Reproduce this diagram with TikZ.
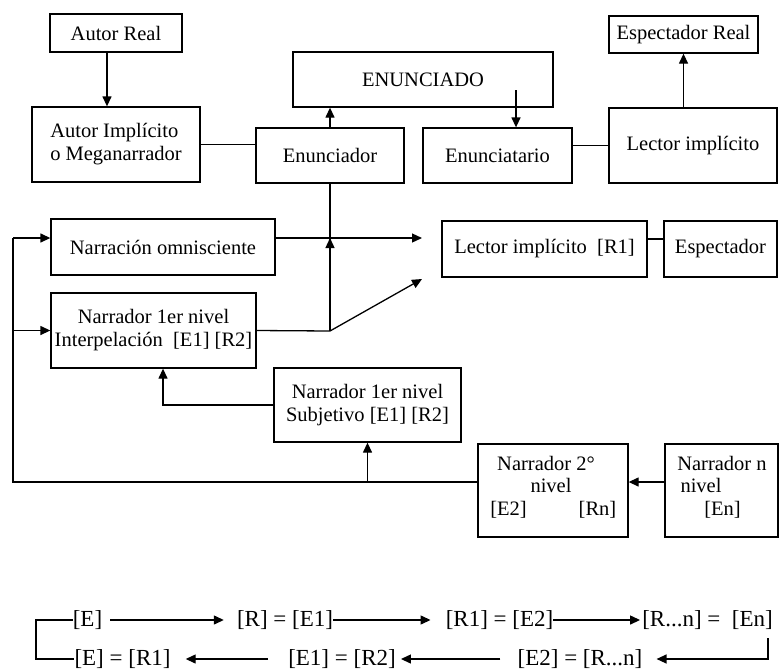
\documentclass[tikz,border=0pt]{standalone}
\usepackage{fontspec}
\setmainfont{Liberation Serif}
\usetikzlibrary{arrows.meta}
\begin{document}
\begin{tikzpicture}[x=1pt,y=-1pt,
  bx/.style={draw,line width=1.3pt,inner sep=0pt,align=center,font=\fontsize{20.5}{23}\selectfont},
  txt/.style={inner sep=0pt,font=\fontsize{20.5}{23}\selectfont},
  btxt/.style={inner sep=0pt,font=\fontsize{23}{25}\selectfont},
  ln/.style={line width=1.3pt},
  arr/.style={line width=1.3pt,-{Triangle[length=10pt,width=9pt]}}]
\useasboundingbox (0,0) rectangle (781,670);
% boxes
\node[bx,minimum width=132pt,minimum height=38pt] (ar) at (116,33) {Autor Real};
\node[bx,minimum width=168pt,minimum height=75pt,align=left] (ai) at (116,144.5) {Autor Implícito\\o Meganarrador};
\node[bx,minimum width=260pt,minimum height=55pt] (eno) at (423,79.5) {ENUNCIADO};
\node[bx,minimum width=148pt,minimum height=55pt] (enr) at (330,155.5) {Enunciador};
\node[bx,minimum width=149pt,minimum height=55pt] (eta) at (497.5,155.5) {Enunciatario};
\node[bx,minimum width=168pt,minimum height=75pt] (li) at (693,145.5) {Lector implícito};
\node[bx,minimum width=149pt,minimum height=37pt] (er) at (683.5,34.5) {Espectador Real};
\node[bx,minimum width=224pt,minimum height=56pt] (no) at (163,247) {Narración omnisciente};
\node[bx,minimum width=205pt,minimum height=75pt] (n1) at (153.5,330.5) {Narrador 1er nivel\\Interpelación\ \ [E1] [R2]};
\node[bx,minimum width=205pt,minimum height=56pt] (lr1) at (544.5,249) {Lector implícito\ \ [R1]};
\node[bx,minimum width=113pt,minimum height=56pt] (esp) at (720.5,249) {Espectador};
\node[bx,minimum width=187pt,minimum height=74pt] (sub) at (367.5,405) {Narrador 1er nivel\\Subjetivo [E1] [R2]};
\node[bx,minimum width=150pt,minimum height=93pt] (n2) at (553,490.5) {};
\node[bx,minimum width=113pt,minimum height=93pt] (nn) at (721.5,490.5) {};
% texts inside multi-part boxes
\node[txt] (n2a) at (546,463) {Narrador 2°};
\node[txt] (n2b) at (551,485) {nivel};
\node[txt] (n2c) at (508.5,510) {[E2]};
\node[txt] (n2d) at (597.5,510) {[Rn]};
\node[txt] (nna) at (722,463) {Narrador n};
\node[txt] (nnb) at (701,485) {nivel};
\node[txt] (nnc) at (722.5,510) {[En]};
% coordinates
\coordinate (c1) at (516,90);
\coordinate (t1) at (422,238);
\coordinate (t2) at (422,279);
\coordinate (j2) at (330,331);
\coordinate (L1) at (13,482);
\coordinate (L2) at (13,238);
% connectors
\draw[arr] ([xshift=-9pt]ar.south) -- ([xshift=-9pt]ai.north);
\draw[ln] (ai.east) -- (ai.east -| enr.west);
\draw[arr] (enr.north) -- (enr.north |- eno.south);
\draw[arr] (c1) -- (c1 |- eta.north);
\draw[ln] (li.west) -- (li.west -| eta.east);
\draw[arr] (er.south |- li.north) -- (er.south);
\draw[arr] (t1 -| no.east) -- (t1);
\draw[ln] (enr.south) -- (j2);
\draw[arr] (j2) -- (enr.south |- t1);
\draw[arr] (n1.east) -- (j2) -- (t2);
\draw[ln] ([yshift=10pt]lr1.east) -- ([yshift=10pt]esp.west);
\draw[arr] (sub.west) -| ([xshift=9.5pt]n1.south);
\draw[ln] ([yshift=8.5pt]n2.west) -- (L1) -- (L2);
\draw[arr] (L2) -- (L2 -| no.west);
\draw[arr] (L1 |- n1.west) -- (n1.west);
\draw[arr] (sub.south |- L1) -- (sub.south);
\draw[arr] ([yshift=8.5pt]nn.west) -- ([yshift=8.5pt]n2.east);
% bottom rows
\node[btxt] (e0) at (87.5,620) {[E]};
\node[btxt] (r0) at (285,620) {[R] = [E1]};
\node[btxt] (r1) at (499.5,620) {[R1] = [E2]};
\node[btxt] (rn) at (707.5,620) {[R...n] =\ \ [En]};
\node[btxt] (b0) at (122.5,659) {[E] = [R1]};
\node[btxt] (b1) at (342,659) {[E1] = [R2]};
\node[btxt] (b2) at (580,659) {[E2] = [R...n]};
\coordinate (rb1) at (768,638);
\coordinate (lb) at (36,620);
\draw[arr] ([xshift=8pt]e0.east) -- ([xshift=-13pt]r0.west);
\draw[arr] (r0.east) -- ([xshift=-15pt]r1.west);
\draw[arr] (r1.east) -- ([xshift=-2pt]rn.west);
\draw[arr] (rb1) |- ([xshift=14pt]b2.east);
\draw[arr] ([xshift=-17pt]b2.west) -- ([xshift=5pt]b1.east);
\draw[arr] ([xshift=-20pt]b1.west) -- ([xshift=15pt]b0.east);
\draw[ln] (e0.west) -- (lb) |- (b0.west);
\end{tikzpicture}
\end{document}
